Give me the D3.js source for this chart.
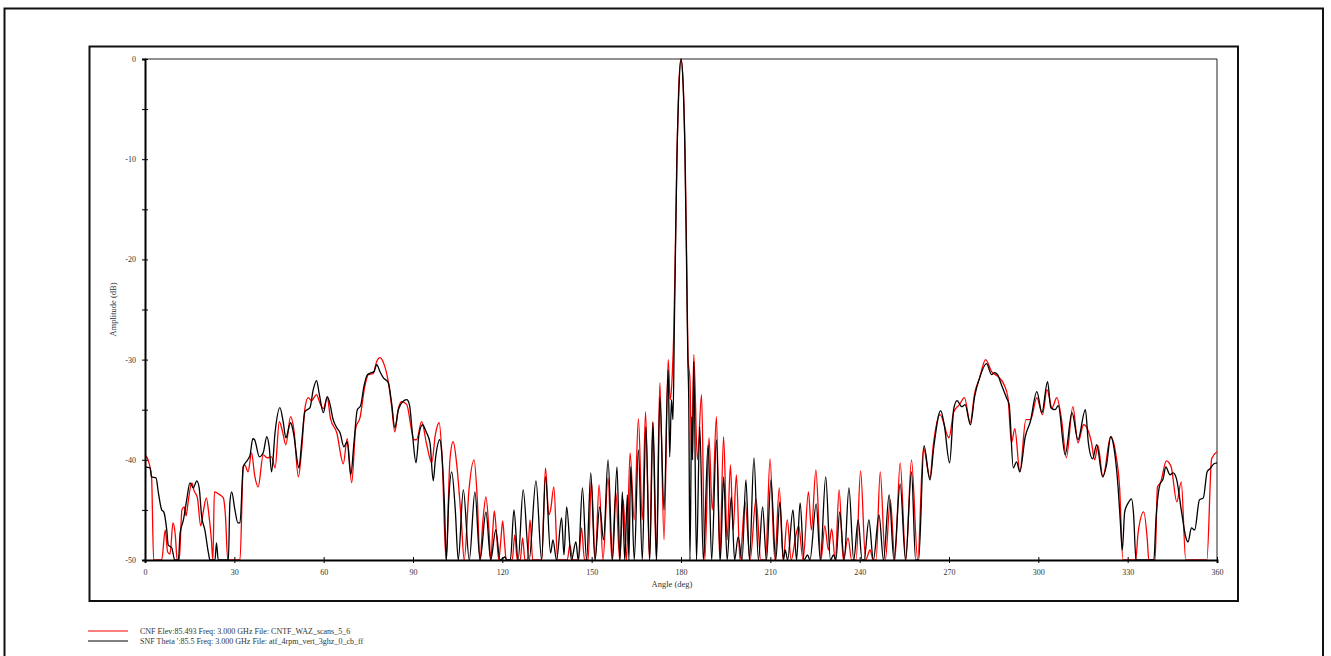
<!DOCTYPE html>
<html>
  <head>
    <title>Pattern comparison</title>
    <script src="https://d3js.org/d3.v7.min.js"></script>
    <style type="text/css">
      body { margin: 0; background: #fff; }
      text { font-family: "Liberation Serif", "Times New Roman", serif; }
    </style>
  </head>
  <body>
    <div id="chart"></div>
    <script>

      // tick values
      var xTicks = [0, 30, 60, 90, 120, 150, 180, 210, 240, 270, 300, 330, 360]
      var yTicks = [0, -5, -10, -15, -20, -25, -30, -35, -40, -45, -50]

      // legend texts
      var legendNames = [
        "CNF Elev:85.493 Freq: 3.000 GHz File: CNTF_WAZ_scans_5_6",
        "SNF Theta ':85.5 Freq: 3.000 GHz File: atf_4rpm_vert_3ghz_0_cb_ff"
      ]

      // CNF (red) - angle (deg) and amplitude (dB)
      var cnfAngle = [0,1,2.2,2.9,5.6,6.8,7.6,8.4,9.4,10.2,10.8,11.5,12.4,13.2,13.8,14.4,15.7,16.5,17.6,18.7,19.5,20.6,21.5,22.3,22.8,23.3,25.2,26.3,27,27.8,31.9,33,33.5,34.6,35.8,36.8,38,39.7,41,42.5,43.7,45.1,46.2,47.3,48.9,50,51.5,52.6,53.7,54.8,55.9,57.6,58.7,59.9,61.2,62.3,64.4,66.6,67.9,69.4,70.8,72.2,73.8,75,76.6,77.8,78.9,80.2,81.7,82.8,83.9,85,86.2,87.9,89.5,90.3,91.2,92.9,94.6,96.3,97.5,98.8,99.8,101.1,102.4,103.5,104.7,106.2,107.2,108.8,110.5,111.6,112.5,113.5,114.5,115.5,116.1,116.8,117.3,118.2,118.8,119.5,120.1,120.8,121.3,123.3,124.2,125,126,126.8,127.6,128.4,129.3,130.2,133.2,134.5,135.6,136.2,137.3,138.6,141.8,142.7,143.6,145.6,146.6,147.6,148.8,149.9,151.2,152.5,153.8,155.5,156.8,158.1,159.4,160.6,161.7,162.9,164.3,165.7,167,168.1,169.4,170.5,171.7,172.9,174.3,175.7,176.4,177.1,177.6,178.1,178.6,179.2,180,180.8,181.4,181.9,182.4,183,183.6,184.3,185.5,186.9,188,189.4,190.5,191.9,193,194.3,195.5,196.6,197.5,198.6,199.8,201.5,203.2,205.2,206.8,208.4,209.9,211.5,213,214.3,215.7,217,218.6,219.5,221,222.8,223.8,225.3,227,228.3,229.5,230.6,231.8,233.1,234.5,236.1,237.3,238.8,240.3,242,243.5,244.5,245.5,246.9,248.6,250.3,251.8,253.6,255.5,257.4,259.5,261.4,263.6,264.7,267,270,271.6,273.5,275.2,277.1,278.6,280.3,282.3,284.3,286.5,288.5,289.8,291,292.1,293.8,295.8,297.4,299.5,301.4,302.9,304.6,306.2,307.8,309.4,311.6,313.3,315.2,317.8,318.9,320,321.7,324.3,326,327.3,328.4,332.7,333.5,335.4,336.6,337.1,339.2,340,341,343,344.6,346.5,348,349.5,356.6,358.2,360]
      var cnfDb = [-39.5,-40,-41.7,-50,-50,-47,-49.2,-49.4,-46.3,-47.6,-50,-50,-45,-44.7,-45.6,-44.4,-42.3,-43.1,-43.8,-46.6,-45.3,-43.8,-45.6,-48,-50,-43.2,-43.5,-43.8,-45.5,-50,-50,-40.7,-40.5,-41.2,-39.3,-41.5,-42.7,-39.5,-39.8,-39.7,-40.8,-36.2,-37.2,-38.5,-35.7,-37,-41.7,-39,-34.9,-33.8,-34.1,-33.5,-34.3,-34.9,-33.8,-35.9,-37.3,-40.4,-37.9,-42.3,-36.8,-35.8,-32.7,-31.5,-31.4,-30.2,-29.8,-30.4,-32.2,-34.6,-37.2,-35,-34.2,-34.5,-37,-38,-38,-36.2,-38.5,-40.3,-37.5,-36.3,-40,-50,-40,-38.2,-40.5,-46,-50,-43,-40,-44,-50,-46,-43.7,-47,-50,-47,-45.1,-48,-50,-48,-46.1,-48.5,-50,-50,-47.5,-50,-50,-47.8,-50,-50,-46,-50,-50,-40.8,-45.5,-45,-42.7,-50,-50,-48.5,-50,-50,-46.8,-50,-50,-42.1,-50,-42.5,-50,-41.8,-50,-43.2,-50,-44,-50,-39.3,-46,-35.9,-46,-35.2,-50,-36.2,-50,-32.3,-48,-30,-34,-31.3,-27,-19,-10,-3,0,-3,-10,-20,-30,-32,-40,-29.5,-40,-33.5,-50,-37.8,-45,-35.7,-50,-37.7,-48,-40.5,-47,-41.5,-50,-44.2,-50,-43.9,-50,-50,-39.9,-50,-42.8,-50,-46,-50,-47.5,-46.6,-50,-43.2,-47,-41,-50,-46.6,-49,-46.9,-50,-43,-50,-47.8,-50,-50,-41.1,-50,-49,-50,-50,-41.2,-50,-44,-50,-40.3,-50,-40,-50,-38.8,-41.8,-38.6,-35.5,-37.8,-35.2,-34.5,-33.8,-36.3,-33.4,-31.8,-30,-31.2,-31.7,-32.5,-33.8,-38.3,-36.9,-41.2,-36,-36,-33.8,-35.5,-33,-34.8,-33.8,-36,-39.8,-34.7,-38.3,-36.5,-38.2,-40,-38.6,-41.7,-37.7,-39.4,-42.8,-50,-50,-47.3,-45.2,-48,-50,-50,-42.7,-42.3,-40.1,-40.7,-44.2,-42.2,-50,-50,-39.9,-39.2]

      // SNF (black)
      var snfAngle = [0,1.7,2.2,3.7,4.5,5.6,6.3,7.3,7.8,9,10,11.2,11.8,12.9,14,15.1,16.2,17.4,18.2,19,20.1,21.3,21.8,23.5,24,24.6,28,28.5,29.1,30.2,31.2,31.9,33,34.5,35.3,36.2,36.8,38.4,39.7,40.9,41.7,42.5,43.7,45.3,46.4,47.3,48.9,49.8,51.7,52.6,53.7,55.4,56.5,57.6,58.5,59.9,61.2,62,63.2,64.4,65.5,66.8,67.9,69.1,70.2,71.3,72.4,73.5,74.7,76,76.9,77.8,78.9,80,81.7,82.8,83.9,85.1,86.5,87.9,88.8,89.9,91,92,93.2,94.4,95.7,96.8,97.5,99,99.7,100.5,101.2,102,103,104.2,105.2,106.9,108.9,110.8,112.5,114.5,116.1,117.8,119.2,120.9,121.5,122.7,123.9,125.3,127,129,131.3,133.2,134.5,136.2,137,138.2,139.9,140.7,141.6,143.2,144.7,145.5,146.9,148.3,149.7,151.1,152.7,154,155.5,157,158.5,159.5,160.3,161.1,162,162.5,163.1,164.3,165.7,167,168.2,169.5,170.6,171.8,172.9,174.3,175.7,176.2,176.8,177.3,177.8,178.2,178.7,179.3,180,180.7,181.3,181.8,182.3,182.6,183,183.6,183.9,184.3,185.2,186.3,187.5,189.1,190.3,191.9,193.2,194.3,195.5,196.9,198,199.2,200.5,201.8,203,204.5,206,207.4,208.7,210.2,211.8,213.2,214.4,215,215.8,217.6,218.8,220,221.3,222.5,223.3,225.4,226.8,228.6,230.2,231.2,232,233.3,234.8,236.4,238,239.5,240.8,241.5,243.1,244.6,246.5,248,249.9,251.5,253.6,255.4,257.4,258.8,259.8,261.6,263.6,264.9,267.2,268.4,270.2,271.6,272.7,274.3,275.4,277.2,278.6,280.3,282.6,284.3,285.3,286.3,287.6,289.3,290.2,291.6,292.7,293.8,295.6,297.3,299.5,301.2,303.1,304.2,305.6,306.7,309,311.3,313.3,315.8,316.8,318.2,319.6,321.6,322.9,324.3,325.5,326.8,327.5,328.2,329,330.2,331.3,332,332.8,338.8,339.5,340.8,341.9,342.8,344.2,345.3,346.4,348.1,349.5,350.3,351.4,352.5,354.1,355.4,356.7,357.6,359,360]
      var snfDb = [-40.7,-40.8,-41.7,-41.8,-43.3,-45,-45.2,-47,-48.5,-48.8,-50,-50,-47.3,-46,-44,-42.3,-42.8,-42.1,-42.8,-45.6,-47,-49.3,-50,-50,-48.3,-50,-50,-44.3,-43.2,-45,-46.3,-46.3,-40.7,-40,-39.5,-37.9,-38,-39.7,-39.3,-37.7,-38.7,-41.2,-37.2,-34.8,-36.2,-37.8,-36.3,-37.2,-40.8,-38.3,-35.2,-34.8,-33,-32.1,-33.4,-35.3,-33.7,-34.3,-36,-36.8,-37.3,-38.7,-38.2,-41.5,-38.2,-35,-34.6,-32.7,-31.5,-31.3,-31.2,-30.5,-31.2,-31.8,-32.3,-34.3,-36.8,-35,-34.2,-34,-34.5,-37.7,-40.3,-37.5,-36.5,-37.2,-38.3,-42.1,-40,-38,-39.5,-44,-50,-44,-41.2,-45,-50,-43,-50,-43.2,-50,-45.2,-50,-47,-50,-49.7,-50,-50,-45,-50,-43,-50,-42.1,-50,-41.7,-49.3,-48,-50,-45.8,-49.5,-44.7,-50,-48.2,-50,-42.8,-50,-41.3,-50,-44.7,-48,-40,-50,-40.7,-50,-43.2,-50,-43.5,-50,-40.7,-50,-39,-50,-36.7,-50,-36.3,-50,-33.7,-45,-31,-39.7,-34,-36,-26,-18,-9,-3,0,-2.5,-9,-19,-30,-34,-50,-35.7,-40,-30.2,-50,-36.7,-50,-38.5,-50,-38,-50,-41.7,-50,-43.7,-50,-47.7,-50,-42,-50,-39.8,-50,-44.7,-50,-42,-50,-44.2,-50,-49,-50,-45,-50,-44.3,-50,-49.5,-50,-44.4,-50,-41.7,-50,-49.5,-50,-45.2,-50,-42.8,-50,-46,-50,-50,-46,-50,-45.5,-50,-43.5,-50,-42.4,-50,-41.2,-50,-50,-38.6,-42,-38.7,-35.1,-36.5,-40.3,-34.9,-34.1,-34.7,-34.5,-36.5,-33.7,-31.8,-30.4,-31.5,-31.3,-31.5,-32.5,-33.8,-34.5,-40.8,-40.2,-41.2,-37.7,-36.2,-33.2,-35.3,-32.2,-34.8,-35,-34.6,-39.5,-35.3,-38,-35,-38.3,-39.9,-38.5,-41.7,-40.5,-37.7,-39,-42.8,-46,-49,-45.2,-44.3,-43.9,-45.5,-50,-50,-46,-42.5,-41.9,-40.7,-41.5,-41.3,-41.9,-45.2,-47.7,-48.2,-46.8,-47,-44,-43.8,-41.2,-40.9,-40.4,-40.3]

      var width = 1331
      var height = 656

      var svg = d3.select("#chart")
        .append("svg")
          .attr("width", width)
          .attr("height", height)

      // outer and inner frames
      svg.append("rect")
        .attr("x", 4.5).attr("y", 8.5)
        .attr("width", 1318.5).attr("height", 660)
        .attr("fill", "none").attr("stroke", "#111").attr("stroke-width", 2)
      svg.append("rect")
        .attr("x", 89.5).attr("y", 46.5)
        .attr("width", 1148.5).attr("height", 554.5)
        .attr("fill", "none").attr("stroke", "#111").attr("stroke-width", 2)

      var x = d3.scaleLinear().domain([0, 360]).range([145, 1217])
      var y = d3.scaleLinear().domain([-50, 0]).range([560, 59])

      // top and right border of plot
      svg.append("path")
        .attr("d", "M" + x(0) + "," + y(0) + "H" + x(360) + "V" + y(-50))
        .attr("fill", "none").attr("stroke", "#222").attr("stroke-width", 1)

      svg.append("clipPath").attr("id", "clip")
        .append("rect")
          .attr("x", x(0)).attr("y", y(0) - 2)
          .attr("width", x(360) - x(0)).attr("height", y(-50) - y(0) + 2)

      var line = d3.line()
        .x(function(d) { return x(d[0]) })
        .y(function(d) { return y(d[1]) })
        .curve(d3.curveMonotoneX)

      var series = [
        { ang: cnfAngle, db: cnfDb, color: "#ff0000" },
        { ang: snfAngle, db: snfDb, color: "#000000" }
      ]

      svg.append("g").attr("clip-path", "url(#clip)")
        .selectAll("path")
        .data(series)
        .enter()
        .append("path")
          .attr("d", function(s) { return line(d3.zip(s.ang, s.db)) })
          .attr("fill", "none")
          .attr("stroke", function(s) { return s.color })
          .attr("stroke-width", 1.3)
          .attr("stroke-linejoin", "round")

      // axes
      var xAxis = svg.append("g")
        .attr("transform", "translate(0," + y(-50) + ")")
        .call(d3.axisBottom(x).tickValues(xTicks).tickSize(3).tickPadding(6))
      var yAxis = svg.append("g")
        .attr("transform", "translate(" + x(0) + ",0)")
        .call(d3.axisLeft(y).tickValues(yTicks).tickSize(3).tickPadding(6)
          .tickFormat(function(d) { return d % 10 === 0 ? d : "" }))

      ;[xAxis, yAxis].forEach(function(g) {
        g.select(".domain").attr("stroke", "#000").attr("stroke-width", 2)
        g.selectAll("text")
          .style("font-family", "Liberation Serif")
          .style("font-size", "8px")
          .attr("fill", "#333")
      })
      xAxis.selectAll(".tick line").attr("y1", -3).attr("y2", 3).attr("stroke", "#000")
      yAxis.selectAll(".tick line").attr("x1", -3).attr("x2", 3).attr("stroke", "#000")

      // axis titles
      svg.append("text")
        .attr("x", 672).attr("y", 587)
        .attr("text-anchor", "middle")
        .style("font-size", "8.5px").attr("fill", "#333")
        .text("Angle (deg)")
      svg.append("text")
        .attr("transform", "translate(116," + y(-25) + ") rotate(-90)")
        .attr("text-anchor", "middle")
        .style("font-size", "8.5px").attr("fill", "#333")
        .text("Amplitude (dB)")

      // legend
      var legend = svg.append("g")
      legend.selectAll("line")
        .data(series)
        .enter()
        .append("line")
          .attr("x1", 88).attr("x2", 128)
          .attr("y1", function(d, i) { return 631 + i * 10 })
          .attr("y2", function(d, i) { return 631 + i * 10 })
          .attr("stroke", function(d) { return d.color })
          .attr("stroke-width", 1)
      legend.selectAll("text")
        .data(legendNames)
        .enter()
        .append("text")
          .attr("x", 140)
          .attr("y", function(d, i) { return 634 + i * 10 })
          .style("font-size", "8px").attr("fill", "#333")
          .text(function(d) { return d })

    </script>
  </body>
</html>
